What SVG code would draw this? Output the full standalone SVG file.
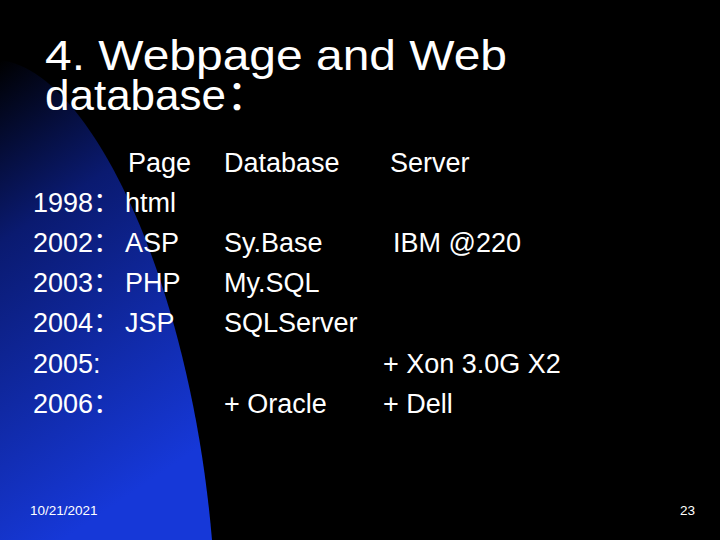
<svg xmlns="http://www.w3.org/2000/svg" width="720" height="540" viewBox="0 0 720 540">
<defs>
<linearGradient id="g" x1="0" y1="0" x2="0.3" y2="1">
<stop offset="0" stop-color="#000000"/>
<stop offset="0.35" stop-color="#0a1a70"/>
<stop offset="1" stop-color="#1638d8"/>
</linearGradient>
<style>
text{fill:#fff;font-family:"Liberation Sans","Noto Sans CJK SC",sans-serif}
.t{font-size:42px}.b{font-size:27px}.f{font-size:13.5px}
</style>
</defs>
<rect width="720" height="540" fill="#000"/>
<path d="M0,60 C90,70 190,280 212,540 L0,540 Z" fill="url(#g)"/>
<text class="t" x="45" y="70" textLength="462" lengthAdjust="spacingAndGlyphs">4. Webpage and Web</text>
<text class="t" x="45" y="110" textLength="225" lengthAdjust="spacingAndGlyphs">database：</text>
<text class="b" x="128" y="172">Page</text>
<text class="b" x="224" y="172">Database</text>
<text class="b" x="390" y="172">Server</text>
<text class="b" x="33" y="212">1998：</text><text class="b" x="125" y="212">html</text>
<text class="b" x="33" y="252">2002：</text><text class="b" x="125" y="252">ASP</text><text class="b" x="224" y="252">Sy.Base</text><text class="b" x="393" y="252">IBM @220</text>
<text class="b" x="33" y="292">2003：</text><text class="b" x="125" y="292">PHP</text><text class="b" x="224" y="292">My.SQL</text>
<text class="b" x="33" y="332">2004：</text><text class="b" x="125" y="332">JSP</text><text class="b" x="224" y="332">SQLServer</text>
<text class="b" x="33" y="373">2005:</text><text class="b" x="383" y="373">+ Xon 3.0G X2</text>
<text class="b" x="33" y="413">2006：</text><text class="b" x="224" y="413">+ Oracle</text><text class="b" x="383" y="413">+ Dell</text>
<text class="f" x="30" y="515">10/21/2021</text>
<text class="f" x="695" y="515" text-anchor="end">23</text>
</svg>
